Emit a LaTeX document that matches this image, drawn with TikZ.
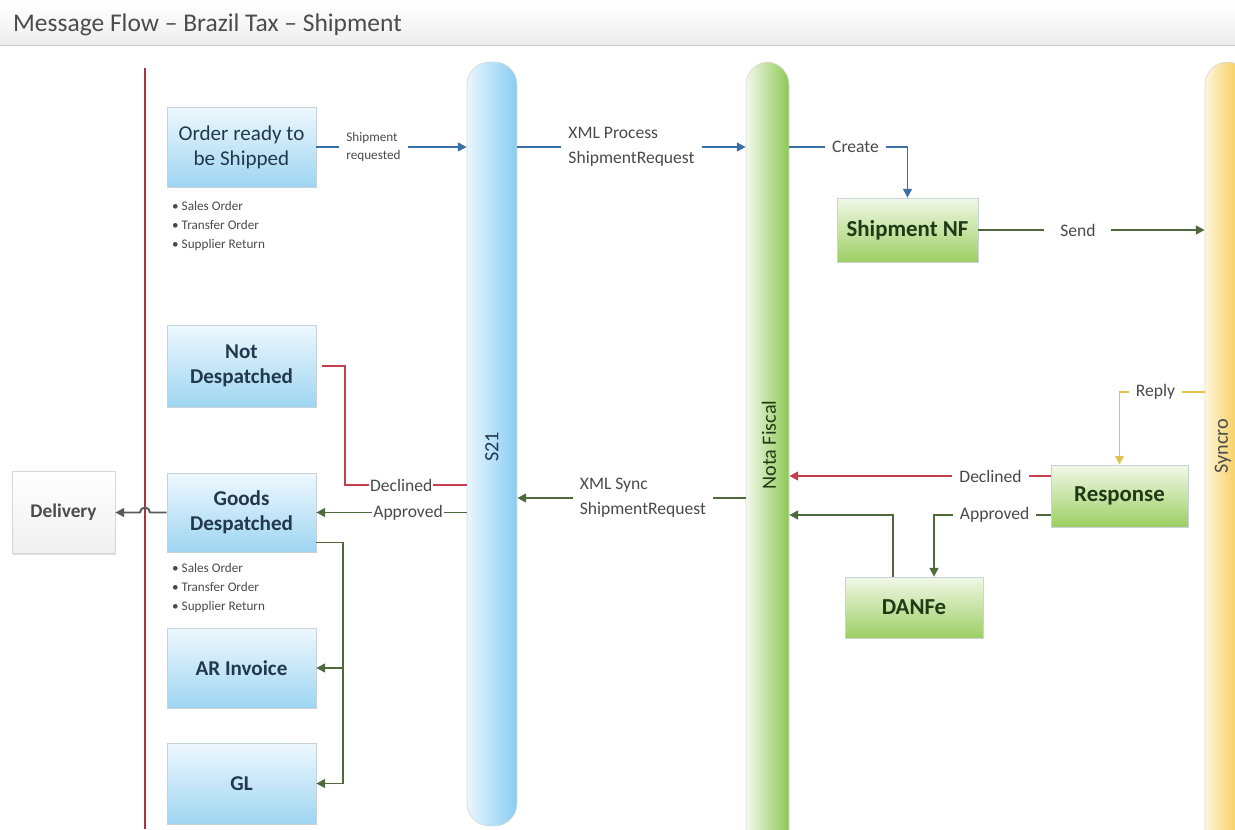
\documentclass[tikz,border=0pt]{standalone}
\usepackage{fontspec}
\setmainfont{Carlito}
\usetikzlibrary{arrows.meta,calc,shadows}

\definecolor{linkblue}{HTML}{3B6FA8}
\definecolor{linkgreen}{HTML}{4E6A3C}
\definecolor{linkred}{HTML}{C63D4E}
\definecolor{linkyellow}{HTML}{E2C24C}
\definecolor{bluetext}{HTML}{22384C}
\definecolor{greentext}{HTML}{1F3A14}
\definecolor{lbltext}{HTML}{4A4A4A}
\definecolor{boxedge}{HTML}{C9D3DA}
\definecolor{bluetop}{HTML}{EEF8FE}
\definecolor{bluebot}{HTML}{9ED5F2}
\definecolor{greentop}{HTML}{F1F8E6}
\definecolor{greenbot}{HTML}{9CCF63}
\definecolor{s21left}{HTML}{EAF6FD}
\definecolor{s21right}{HTML}{86CDF2}
\definecolor{nfleft}{HTML}{F3F9EA}
\definecolor{nfright}{HTML}{8DC853}
\definecolor{synleft}{HTML}{FEF6DA}
\definecolor{synright}{HTML}{F4BE2E}

\tikzset{
  boxbase/.style={draw=boxedge, line width=0.4pt, align=center, inner sep=2pt,
    drop shadow={shadow xshift=0.7pt, shadow yshift=-0.7pt, opacity=0.25}},
  bluebox/.style={boxbase, top color=bluetop, bottom color=bluebot,
    text=bluetext, minimum width=2.98cm, font=\fontsize{12}{14.5}\selectfont},
  greenbox/.style={boxbase, top color=greentop, bottom color=greenbot,
    text=greentext, font=\bfseries\fontsize{13}{15}\selectfont},
  bar/.style={draw=gray!30, line width=0.4pt, rounded corners=0.45cm, minimum width=#1},
  barlab/.style={rotate=90, font=\fontsize{11.5}{13}\selectfont},
  lbl/.style={fill=white, inner ysep=1.5pt, inner xsep=4pt, text=lbltext, align=left,
    font=\fontsize{10}{14}\selectfont},
  bullets/.style={align=left, anchor=west, text=lbltext, font=\fontsize{7.5}{10.8}\selectfont},
  bluelink/.style={draw=linkblue, line width=1.1pt, -{Triangle[length=5pt,width=5pt]}},
  greenlink/.style={draw=linkgreen, line width=1.1pt, -{Triangle[length=5pt,width=5pt]}},
  redlink/.style={draw=linkred, line width=1.1pt, -{Triangle[length=5pt,width=5pt]}},
  greenline/.style={draw=linkgreen, line width=1.1pt},
  redline/.style={draw=linkred, line width=1.1pt},
}

\begin{document}
\begin{tikzpicture}[x=0.02cm, y=-0.02cm]
  \useasboundingbox (0,0) rectangle (1235,829);

  % Title bar
  \shade[top color=white, bottom color=gray!14] (0,3) rectangle (1235,45);
  \draw[gray!45] (0,45) -- (1235,45);
  \node[anchor=west, text=black!70, font=\fontsize{14.5}{16}\selectfont] (title) at (7,25)
    {Message Flow -- Brazil Tax -- Shipment};

  % Swim bars
  \node[bar=1cm, left color=s21left, right color=s21right, minimum height=15.28cm]
    (s21) at (492,444) {};
  \node[bar=0.86cm, left color=nfleft, right color=nfright, minimum height=16cm]
    (nf) at (767.5,462) {};
  \node[bar=0.9cm, left color=synleft, right color=synright, minimum height=16cm]
    (syncro) at (1227.5,462) {};
  \node[barlab, text=bluetext] (s21lab) at (492,447) {S21};
  \node[barlab, text=greentext] (nflab) at (769,445) {Nota Fiscal};
  \node[barlab, text=black!70] (syncrolab) at (1223,446) {Syncro};

  % Red boundary line
  \coordinate (rtop) at (145,68);
  \coordinate (rbot) at (145,829);
  \draw[draw=linkred!85!black, line width=1.3pt] (rtop) -- (rbot);

  % Left boxes
  \node[bluebox, minimum height=1.6cm, font=\fontsize{12}{14.2}\selectfont] (order) at (241.5,147)
    {Order ready to\\be Shipped};
  \node[bullets] (orderlist) at (166,226)
    {\textbullet\ Sales Order\\\textbullet\ Transfer Order\\\textbullet\ Supplier Return};
  \node[bluebox, minimum height=1.64cm, font=\bfseries\fontsize{12}{14.5}\selectfont] (notdes) at (241.5,366)
    {Not\\Despatched};
  \node[bluebox, minimum height=1.58cm, font=\bfseries\fontsize{12}{14.5}\selectfont] (goods) at (241.5,512.5)
    {Goods\\Despatched};
  \node[bullets] (goodslist) at (166,588)
    {\textbullet\ Sales Order\\\textbullet\ Transfer Order\\\textbullet\ Supplier Return};
  \node[bluebox, minimum height=1.6cm, font=\bfseries\fontsize{12}{14.5}\selectfont] (arinv) at (241.5,668)
    {AR Invoice};
  \node[bluebox, minimum height=1.62cm, font=\bfseries\fontsize{12}{14.5}\selectfont] (gl) at (241.5,783.5)
    {GL};
  \node[boxbase, draw=red!15!gray!30, top color=white, bottom color=gray!12, minimum width=2.06cm,
    minimum height=1.64cm, text=black!70, font=\bfseries\fontsize{11}{13}\selectfont] (delivery) at (63.5,512.5)
    {Delivery};

  % Right boxes
  \node[greenbox, minimum width=2.82cm, minimum height=1.28cm] (shipnf) at (907.5,230) {Shipment NF};
  \node[greenbox, minimum width=2.74cm, minimum height=1.24cm] (response) at (1119.5,496) {Response};
  \node[greenbox, minimum width=2.76cm, minimum height=1.22cm] (danfe) at (914,607.5) {DANFe};

  % Request flow
  \draw[bluelink] (order.east) -- (order.east -| s21.west)
    node[lbl, pos=0.38, font=\fontsize{7.5}{10}\selectfont] {Shipment\\requested};
  \draw[bluelink] (order.east -| s21.east) -- (order.east -| nf.west)
    node[lbl, pos=0.5] {XML Process\\ShipmentRequest};
  \draw[bluelink] (order.east -| nf.east) -| node[lbl, pos=0.28] {Create} (shipnf.north);
  \draw[greenlink] (shipnf.east) -- (shipnf.east -| syncro.west) node[lbl, pos=0.44, inner xsep=9pt] {Send};

  % Reply flow
  \coordinate (reply) at (1205,392);
  \draw[draw=linkyellow, line width=1pt, -{Triangle[length=5pt,width=5pt]}] (reply)
    -| node[lbl, pos=0.29] {Reply} (response.north);
  \coordinate (decl) at ($(response.west)+(0,-20)$);
  \coordinate (appr) at ($(response.west)+(0,19)$);
  \draw[redlink] (decl) -- (decl -| nf.east) node[lbl, pos=0.23] {Declined};
  \draw[greenlink] (appr) -| node[lbl, pos=0.24] {Approved} ($(danfe.north)+(20,0)$);
  \draw[greenlink] ($(danfe.north)+(-21,0)$) |- (appr -| nf.east);

  % Sync back to S21
  \coordinate (sync) at (0,498);
  \draw[greenlink] (sync -| nf.west) -- (sync -| s21.east)
    node[lbl, pos=0.45] {XML Sync\\ShipmentRequest};

  % Outcome in S21
  \coordinate (sdecl) at (0,485);
  \draw[redline] (sdecl -| s21.west) -| node[lbl, pos=0.27, inner xsep=0.5pt] {Declined}
    ($(notdes.east)+(29,0)$) -- ($(notdes.east)+(6,0)$);
  \draw[greenlink] (goods.east -| s21.west) -- (goods.east)
    node[lbl, pos=0.39, inner xsep=0.5pt] {Approved};

  % Delivery, with a hop over the red line
  \draw[draw=black!65, line width=1.1pt, -{Triangle[length=5pt,width=5pt]}] (goods.west)
    -- ($(goods.west -| rtop)+(5,0)$) arc[start angle=0, end angle=180, radius=0.1cm]
    -- (delivery.east);

  % Invoice and GL
  \coordinate (split) at ($(goods.east)+(27,30)$);
  \draw[greenline] (split -| goods.east) -- (split) -- (split |- gl.east);
  \draw[greenlink] (split |- arinv.east) -- (arinv.east);
  \draw[greenlink] (split |- gl.east) -- (gl.east);
\end{tikzpicture}
\end{document}
